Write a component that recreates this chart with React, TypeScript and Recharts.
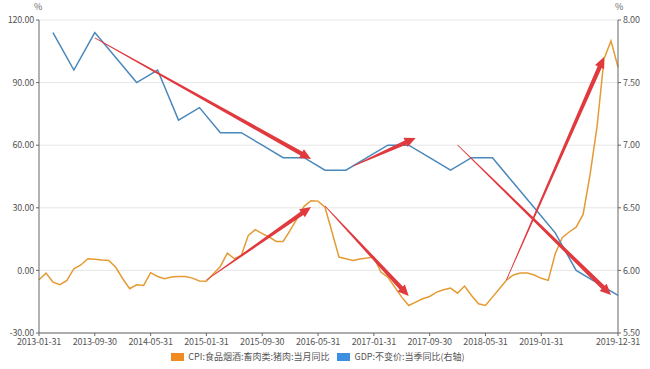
import React from 'react';
import {
    LineChart,
    Line,
    XAxis,
    YAxis,
    CartesianGrid,
    Legend,
    ReferenceLine
} from 'recharts';

// month-end dates, 2013-01 .. 2019-12
const monthEnds: string[] = [];
for (let y = 2013; y <= 2019; y++) {
    for (let m = 0; m < 12; m++) {
        const d = new Date(Date.UTC(y, m + 1, 0)).getUTCDate();
        monthEnds.push(`${y}-${String(m + 1).padStart(2, '0')}-${String(d).padStart(2, '0')}`);
    }
}

// CPI:食品烟酒:畜肉类:猪肉:当月同比 (%)
const cpiPork = [
    -4.5, -1.3, -5.6, -6.8, -4.8, 0.8, 2.6, 5.6, 5.4, 5.0, 4.8, 1.5,
    -4.0, -8.8, -6.9, -7.2, -1.1, -2.9, -4.0, -3.2, -2.9, -2.9, -3.7, -5.1,
    -5.2, -1.6, 1.9, 8.3, 5.6, 7.2, 16.8, 19.5, 17.6, 16.0, 13.9, 13.9,
    19.2, 24.8, 30.7, 33.4, 33.2, 30.3, 18.4, 6.4, 5.6, 4.8, 5.5, 5.9,
    6.4, -0.8, -3.2, -8.0, -12.8, -16.8, -15.2, -13.6, -12.5, -10.4, -9.3, -8.5,
    -10.9, -7.5, -12.0, -16.0, -16.8, -12.8, -8.8, -4.7, -2.2, -1.3, -1.3, -2.2,
    -3.8, -4.8, 8.0, 15.7, 18.4, 20.7, 26.8, 46.0, 69.0, 101.5, 110.0, 97.4
];

// GDP:不变价:当季同比 (%), quarter ends only
const gdpQuarterly = [
    7.9, 7.6, 7.9, 7.7,
    7.5, 7.6, 7.2, 7.3,
    7.1, 7.1, 7.0, 6.9,
    6.9, 6.8, 6.8, 6.9,
    7.0, 7.0, 6.9, 6.8,
    6.9, 6.9, 6.7, 6.5,
    6.3, 6.0, 5.9, 5.8
];

const xTicks = ['2013-01-31', '2013-09-30', '2014-05-31', '2015-01-31', '2015-09-30', '2016-05-31',
    '2017-01-31', '2017-09-30', '2018-05-31', '2019-01-31', '2019-12-31'];
const leftTicks = [-30, 0, 30, 60, 90, 120];
const rightTicks = [5.5, 6.0, 6.5, 7.0, 7.5, 8.0];

// hand-drawn trend arrows (date, left-axis value)
const arrowFrom = [
    { x: '2013-09-30', y: 111.4 },
    { x: '2016-10-31', y: 50.0 },
    { x: '2018-01-31', y: 60.1 },
    { x: '2015-01-31', y: -4.6 },
    { x: '2016-06-30', y: 30.9 },
    { x: '2018-08-31', y: -4.6 },
];
const arrowTo = [
    { x: '2016-04-30', y: 53.4 },
    { x: '2017-07-31', y: 63.5 },
    { x: '2019-11-30', y: -11.8 },
    { x: '2016-04-30', y: 30.4 },
    { x: '2017-06-30', y: -12.3 },
    { x: '2019-10-31', y: 102.3 },
];

const chartData = monthEnds.map((date, i) => ({
    date,
    cpi: cpiPork[i],
    gdp: i % 3 === 2 ? gdpQuarterly[(i - 2) / 3] : null,
}));

const CPI_COLOR = '#E49B33';
const GDP_COLOR = '#4A88BC';
const ARROW_COLOR = '#E0393E';
const FONT = '"Noto Sans CJK SC", "Noto Sans", sans-serif';

const TaperArrow = (props: any) => {
    const { x1, y1, x2, y2 } = props;
    const dx = x2 - x1;
    const dy = y2 - y1;
    const len = Math.sqrt(dx * dx + dy * dy);
    const ux = dx / len, uy = dy / len;
    const nx = -uy, ny = ux;
    const head = 11;
    const bx = x2 - ux * head, by = y2 - uy * head;
    const w0 = 0.4, w1 = 2.2, hw = 5;
    const pts = [
        [x1 + nx * w0, y1 + ny * w0],
        [bx + nx * w1, by + ny * w1],
        [bx + nx * hw, by + ny * hw],
        [x2, y2],
        [bx - nx * hw, by - ny * hw],
        [bx - nx * w1, by - ny * w1],
        [x1 - nx * w0, y1 - ny * w0],
    ].map(p => p.join(',')).join(' ');
    return <polygon points={pts} fill={ARROW_COLOR} stroke="none" />;
};

const renderLegend = () => (
    <div style={{ display: 'flex', justifyContent: 'center', fontSize: 9, color: '#555', fontFamily: FONT, lineHeight: '12px', marginTop: 0, paddingRight: 14 }}>
        <span style={{ display: 'flex', alignItems: 'center', marginRight: 8 }}>
            <span style={{ width: 13, height: 8, background: '#F18A21', marginRight: 4, display: 'inline-block' }} />
            CPI:食品烟酒:畜肉类:猪肉:当月同比
        </span>
        <span style={{ display: 'flex', alignItems: 'center' }}>
            <span style={{ width: 13, height: 8, background: '#3D8FE0', marginRight: 4, display: 'inline-block' }} />
            GDP:不变价:当季同比(右轴)
        </span>
    </div>
);

const tickStyle = { fontSize: 9, fill: '#555', fontFamily: FONT, letterSpacing: -0.2 };

const App = () => {
    return (
        <div style={{ position: 'absolute', left: 0, top: 0, width: 650, height: 369, background: '#fff' }}>
            <div style={{ position: 'absolute', left: 34, top: 0, fontSize: 9, color: '#666', fontFamily: FONT }}>%</div>
            <div style={{ position: 'absolute', left: 615, top: 0, fontSize: 9, color: '#666', fontFamily: FONT }}>%</div>
            <LineChart
                width={650}
                height={369}
                data={chartData}
                margin={{ top: 20, right: 0, left: 0, bottom: 0 }}
            >
                <CartesianGrid vertical={false} stroke="#e6e6e6" yAxisId="left" />
                <XAxis
                    dataKey="date"
                    ticks={xTicks}
                    interval={0}
                    height={18}
                    tick={tickStyle}
                    tickSize={3}
                    tickMargin={3}
                    stroke="#666"
                />
                <YAxis
                    yAxisId="left"
                    domain={[-30, 120]}
                    ticks={leftTicks}
                    width={39}
                    tick={tickStyle}
                    tickSize={3}
                    tickMargin={2}
                    tickFormatter={(v: number) => v.toFixed(2)}
                    stroke="#666"
                />
                <YAxis
                    yAxisId="right"
                    orientation="right"
                    domain={[5.5, 8]}
                    ticks={rightTicks}
                    width={32}
                    tick={tickStyle}
                    tickSize={3}
                    tickMargin={2}
                    tickFormatter={(v: number) => v.toFixed(2)}
                    stroke="#666"
                />
                <Legend verticalAlign="bottom" height={18} content={renderLegend} />
                <Line
                    yAxisId="left"
                    type="linear"
                    dataKey="cpi"
                    stroke={CPI_COLOR}
                    strokeWidth={1.5}
                    dot={false}
                    isAnimationActive={false}
                />
                <Line
                    yAxisId="right"
                    type="linear"
                    dataKey="gdp"
                    stroke={GDP_COLOR}
                    strokeWidth={1.5}
                    dot={false}
                    connectNulls
                    isAnimationActive={false}
                />
                {arrowFrom.map((p, i) => (
                    <ReferenceLine
                        key={i}
                        yAxisId="left"
                        segment={[p, arrowTo[i]]}
                        shape={TaperArrow}
                    />
                ))}
            </LineChart>
        </div>
    );
};

export default App;
